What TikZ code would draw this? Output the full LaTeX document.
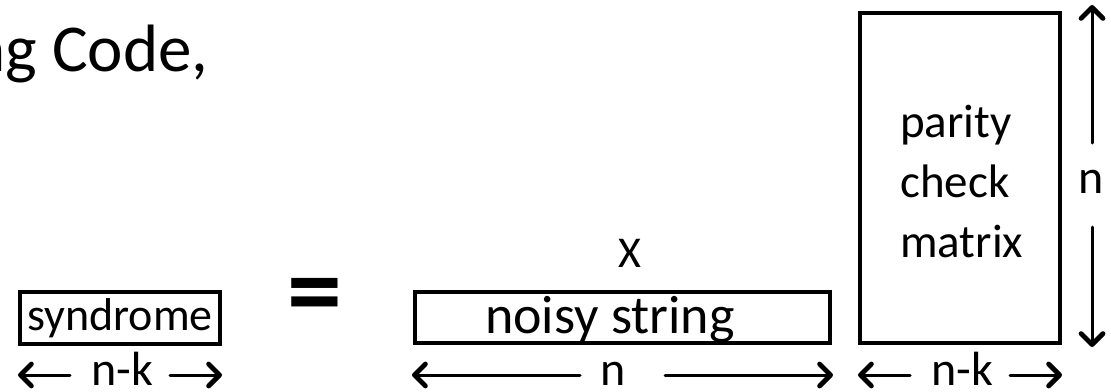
\documentclass[tikz,border=0pt]{standalone}
\usepackage{fontspec}
\setmainfont{Carlito}
\usetikzlibrary{arrows.meta}

\newcommand{\fs}[1]{\fontsize{#1}{#1}\selectfont}

\tikzset{
  box/.style={draw, line width=3.5pt, rectangle, inner sep=0pt},
  lbl/.style={inner sep=0pt, font=\fs{46}},
  dimline/.style={line width=3pt, line cap=round,
    -{Straight Barb[length=11pt,width=22pt,line width=0pt 1.6,round]}},
}

\begin{document}
\begin{tikzpicture}[x=1pt, y=-1pt]
  \useasboundingbox (0,0) rectangle (1111,391);

  % heading (continues beyond the left edge)
  \node[inner sep=0pt, anchor=base west, font=\fs{67}] (title) at (-30,71) {ng Code,};

  % syndrome block
  \node[box, minimum width=200pt, minimum height=52pt] (syn) at (120,318) {};
  \node[lbl, anchor=base] (syntext) at (120,330) {syndrome};

  % equals sign
  \node[inner sep=0pt, font=\fs{110}\bfseries] (eq) at (315,303) {=};

  % noisy string block
  \node[lbl, anchor=base, font=\fs{44}] (times) at (630,267) {X};
  \node[box, minimum width=415pt, minimum height=51pt] (noisy) at (622.5,317.5) {};
  \node[lbl, anchor=base, font=\fs{54}] (noisytext) at (610,333) {noisy string};

  % parity check matrix (base anchor sits on the last line)
  \node[box, minimum width=200pt, minimum height=330pt] (H) at (960,178) {};
  \node[lbl, anchor=base west, align=left, font=\fs{47}] (Htext) at (900,257)
    {parity\\[13pt]check\\[13pt]matrix};

  % dimension labels
  \node[lbl, anchor=base, font=\fs{48}] (nk1) at (122,385) {n-k};
  \node[lbl, anchor=base, font=\fs{48}] (n1) at (613,385) {n};
  \node[lbl, anchor=base, font=\fs{48}] (nk2) at (962,385) {n-k};
  \node[lbl, anchor=base, font=\fs{48}] (n2) at (1091,193) {n};

  % arrow end points
  \coordinate (s0) at (70,375);   \coordinate (s1) at (18,375);
  \coordinate (s2) at (170,375);  \coordinate (s3) at (222,375);
  \coordinate (m0) at (580,375);  \coordinate (m1) at (412,375);
  \coordinate (m2) at (665,375);  \coordinate (m3) at (833,375);
  \coordinate (p0) at (910,375);  \coordinate (p1) at (858,375);
  \coordinate (p2) at (1010,375); \coordinate (p3) at (1062,375);
  \coordinate (v0) at (1092,143); \coordinate (v1) at (1092,5);
  \coordinate (v2) at (1092,227); \coordinate (v3) at (1092,347);

  % dimension arrows
  \draw[dimline] (s0) -- (s1);
  \draw[dimline] (s2) -- (s3);
  \draw[dimline] (m0) -- (m1);
  \draw[dimline] (m2) -- (m3);
  \draw[dimline] (p0) -- (p1);
  \draw[dimline] (p2) -- (p3);
  \draw[dimline] (v0) -- (v1);
  \draw[dimline] (v2) -- (v3);
\end{tikzpicture}
\end{document}
